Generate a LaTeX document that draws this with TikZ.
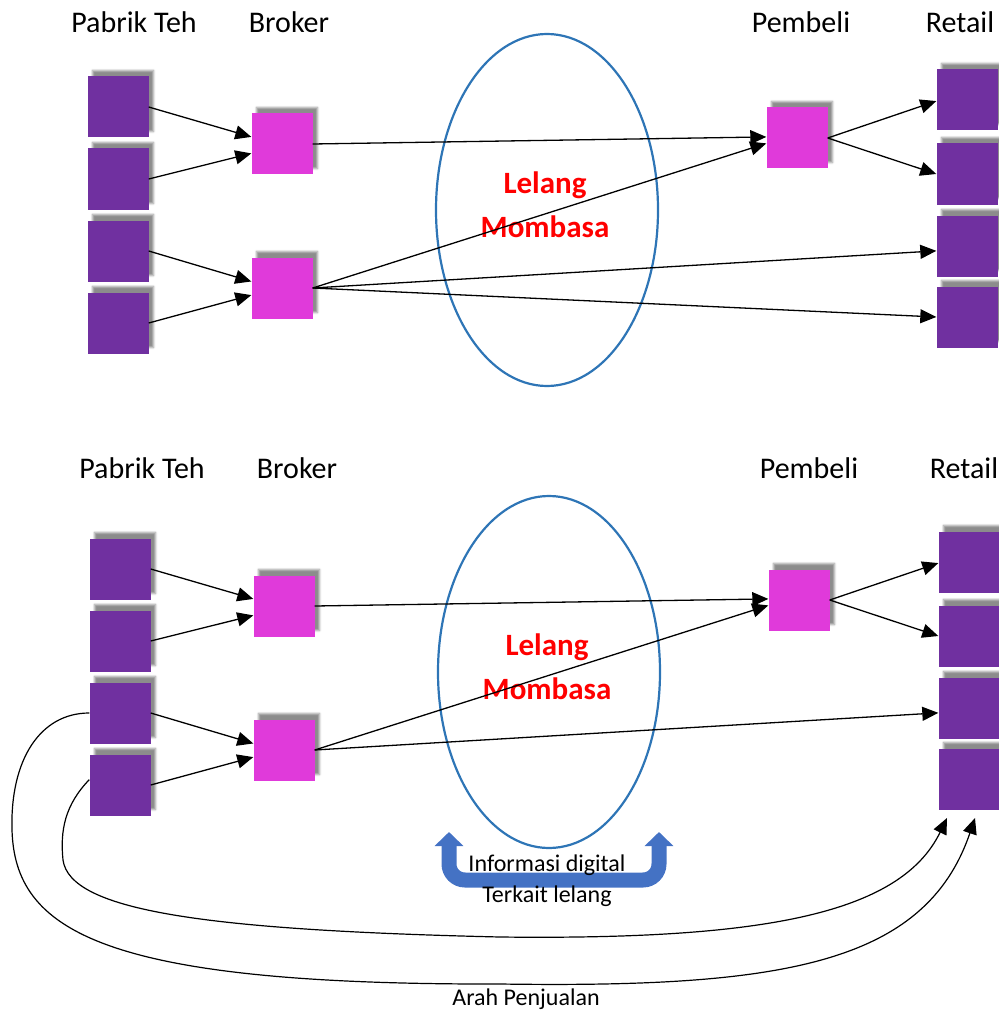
\documentclass[tikz,border=0pt]{standalone}
\usepackage{fontspec}
\setmainfont{Carlito}
\usepackage{tikz}
\usetikzlibrary{arrows.meta}
\usetikzlibrary{shapes.geometric}
\usetikzlibrary{shadows.blur}
\definecolor{pabrik}{RGB}{112,48,160}
\definecolor{broker}{RGB}{224,58,218}
\definecolor{lelang}{RGB}{46,117,182}
\definecolor{info}{RGB}{68,114,196}
\tikzset{basic box/.style={rectangle,
                           minimum size=61pt,
                           inner sep=0pt,
                           blur shadow={shadow xshift=5pt,shadow yshift=6pt,
                                        shadow blur radius=2pt,shadow opacity=45}}}
\tikzset{purple box/.style={basic box,fill=pabrik}}
\tikzset{pink box/.style={basic box,fill=broker}}
\tikzset{edge/.style={draw,
                      line width=1.3pt,
                      -{Triangle[length=16pt,width=14pt]}}}
\tikzset{title/.style={font=\fontsize{30}{36}\selectfont}}
\newcommand{\TIP}{Triangle[length=14pt,width=28pt]}

\begin{document}
\begin{tikzpicture}
      [
      x=1pt,y=-1pt,
      curve/.style={draw,line width=1.2pt,-{Triangle[length=16pt,width=14pt]}},
      ]
      \useasboundingbox (0,0) rectangle (998,1011);

      % both rows: shift of boxes and of headings
      \foreach \s/\dx/\dy/\lx/\ly/\rx in {t/0/0/0/0/0,b/2/462/8/446/4}
      {
      % headings
      \node [title] (h1\s) at (134+\lx,22+\ly) {Pabrik Teh};
      \node [title] (h2\s) at (289+\lx,22+\ly) {Broker};
      \node [title] (h3\s) at (801+\lx,22+\ly) {Pembeli};
      \node [title] (h4\s) at (960+\rx,22+\ly) {Retail};

      % auction
      \node [draw=lelang,line width=2.2pt,ellipse,inner sep=0pt,
      minimum width=222pt,minimum height=352pt] (auc\s) at (547+\dx,210+\dy) {};
      \node [text=red,align=center,font=\bfseries\fontsize{31}{44}\selectfont]
      (lbl\s) at (545+\dx,205+\dy) {Lelang\\Mombasa};

      % vertices
      \foreach \i/\y in {1/107,2/179,3/251,4/323}
      \node [purple box] (fac\i\s) at (118+\dx,\y+\dy) {};
      \foreach \i/\y in {1/144,2/288}
      \node [pink box] (brk\i\s) at (282+\dx,\y+\dy) {};
      \node [pink box] (buy\s) at (797+\dx,138+\dy) {};
      \foreach \i/\y in {1/100,2/174,3/246,4/317}
      \node [purple box] (ret\i\s) at (967+\dx,\y+\dy) {};

      % edges
      \path [edge] (fac1\s.east) -- (brk1\s.167);
      \path [edge] (fac2\s.east) -- (brk1\s.197);
      \path [edge] (fac3\s.east) -- (brk2\s.168);
      \path [edge] (fac4\s.east) -- (brk2\s.193);
      \path [edge] (brk1\s.east) -- (buy\s.178);
      \path [edge] (brk2\s.east) -- (buy\s.190);
      \path [edge] (brk2\s.east) -- (ret3\s.189);
      \path [edge] (buy\s.east) -- (ret1\s.182);
      \path [edge] (buy\s.east) -- (ret2\s.west);
      }
      \path [edge] (brk2t.east) -- (ret4t.west);

      % digital information
      \coordinate (infoL) at (449,832);
      \coordinate (infoR) at (659,832);
      \draw [color=info,line width=15pt,rounded corners=16pt,{\TIP}-{\TIP}]
      (infoL) -- ++(0,48) -| (infoR);
      \node [font=\fontsize{24}{30}\selectfont,anchor=base] (info1) at (547,871) {Informasi digital};
      \node [font=\fontsize{24}{30}\selectfont,anchor=base] (info2) at (547,902) {Terkait lelang};

      % direct sales
      \coordinate (tipA) at (947,818);
      \coordinate (tipB) at (975,818);
      \path [curve] (fac3b.west) .. controls (40,713) and (10,760) .. (12,830)
      .. controls (15,930) and (100,985) .. (500,984)
      .. controls (780,988) and (925,965) .. (tipB);
      \path [curve] (fac4b.170) .. controls (65,805) and (60,830) .. (63,860)
      .. controls (70,910) and (200,930) .. (500,937)
      .. controls (760,940) and (900,915) .. (tipA);
      \node [font=\fontsize{24}{30}\selectfont,anchor=base] (sales) at (526,1005) {Arah Penjualan};

\end{tikzpicture}
\end{document}
